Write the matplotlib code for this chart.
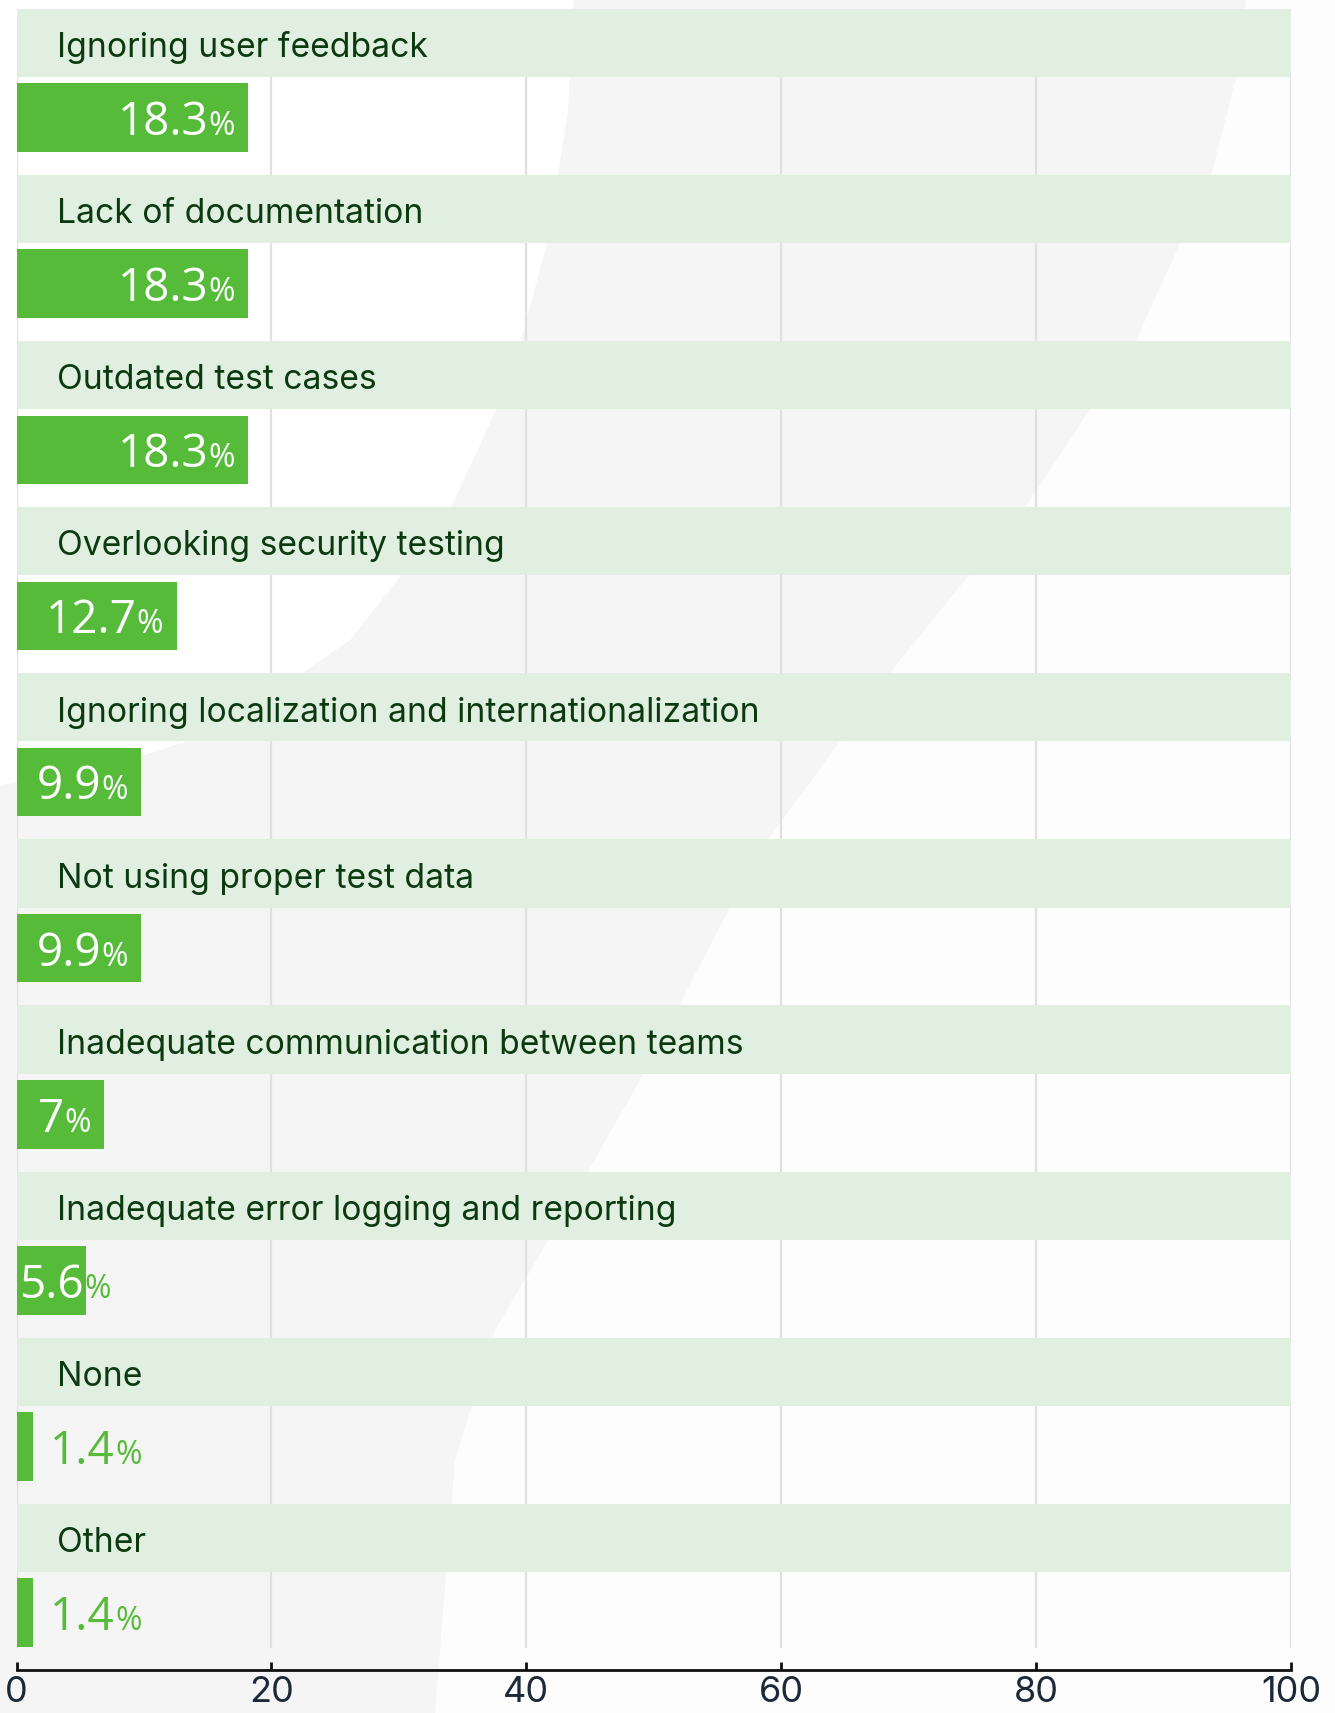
import numpy as np
import matplotlib
matplotlib.use('Agg')
import matplotlib.pyplot as plt
from matplotlib.patches import Polygon

categories = ["Ignoring user feedback", "Lack of documentation", "Outdated test cases",
              "Overlooking security testing", "Ignoring localization and internationalization",
              "Not using proper test data", "Inadequate communication between teams",
              "Inadequate error logging and reporting", "None", "Other"]
values = [18.3, 18.3, 18.3, 12.7, 9.9, 9.9, 7, 5.6, 1.4, 1.4]
value_labels = ["18.3", "18.3", "18.3", "12.7", "9.9", "9.9", "7", "5.6", "1.4", "1.4"]
x_ticks = [0, 20, 40, 60, 80, 100]

CAT_FONT = ['Inter', 'DejaVu Sans']
VAL_FONT = ['Open Sans', 'DejaVu Sans']
BAR_C = '#57bb3a'
BAND_C = '#e1efe1'
TXT_C = '#0c3a10'
GRID_C = '#e0e0e0'

W, H = 1335, 1713
fig = plt.figure(figsize=(W / 100, H / 100), dpi=100)
fig.patch.set_facecolor('#f5f5f5')

# decorative background
bg = fig.add_axes([0, 0, 1, 1], zorder=-5)
bg.set_xlim(0, W); bg.set_ylim(H, 0); bg.axis('off')
tl = [(0, 0), (574, 0), (568, 110), (548, 240), (510, 380), (445, 520),
      (350, 640), (220, 730), (100, 770), (0, 785)]
bg.add_patch(Polygon(tl, closed=True, fc='white', ec='none'))
rr = [(1246, 0), (1236, 77), (1211, 176), (1136, 340), (1030, 500), (900, 660),
      (760, 850), (640, 1080), (560, 1220), (495, 1330), (455, 1460), (435, 1713),
      (W, H), (W, 0)]
bg.add_patch(Polygon(rr, closed=True, fc='#fdfdfd', ec='none'))

x0px, x100px = 16.5, 1291.0
ytop, ybot = 8.7, 1670.0
ax = fig.add_axes([x0px / W, (H - ybot) / H, (x100px - x0px) / W, (ybot - ytop) / H])
ax.set_facecolor('none')
n = len(categories)
ax.set_xlim(0, 100)
ax.set_ylim(n, 0)
pxu = (x100px - x0px) / 100.0

band_h = 0.411
bar_off = 0.655
bar_h = 0.412
pos = np.arange(n)

# gridlines
ax.vlines(x_ticks, band_h, n - 0.135, color=GRID_C, lw=1.6, zorder=1)
# bands
ax.barh(pos + band_h / 2, 100.28, left=-0.12, height=band_h, color=BAND_C, zorder=2)
# bars
bars = ax.barh(pos + bar_off, values, left=-0.12, height=bar_h, color=BAR_C, zorder=3)

renderer = fig.canvas.get_renderer()

# category labels
probe = ax.text(0, 0, categories[0], fontsize=25, family=CAT_FONT)
w25 = probe.get_window_extent(renderer).width
probe.remove()
cat_size = 25 * 369.0 / w25
for i, c in enumerate(categories):
    ax.text(3.2, i + 0.291, c, fontsize=cat_size, family=CAT_FONT, color=TXT_C,
            va='baseline', ha='left', zorder=5)


def tw(s, size):
    t = fig.text(0, 0, s, fontsize=size, family=VAL_FONT)
    w = t.get_window_extent(renderer).width
    t.remove()
    return w


NUM_S, PCT_S = 33, 23
pad = 15
for i, (v, lab) in enumerate(zip(values, value_labels)):
    yb = i + 0.760
    wn = tw(lab, NUM_S)
    wp = tw('%', PCT_S)
    bar_px = v * pxu
    if v < 3:
        col = BAR_C
        start = v * pxu + 16
        ax.annotate(lab, xy=(0, yb), xytext=(start, 0), textcoords='offset pixels',
                    fontsize=NUM_S, family=VAL_FONT, color=col, ha='left', va='baseline', zorder=6)
        ax.annotate('%', xy=(0, yb), xytext=(start + wn, 0), textcoords='offset pixels',
                    fontsize=PCT_S, family=VAL_FONT, color=col, ha='left', va='baseline', zorder=6)
    elif wn + wp + 2 * pad <= bar_px:
        ax.annotate('%', xy=(v, yb), xytext=(-pad, 0), textcoords='offset pixels',
                    fontsize=PCT_S, family=VAL_FONT, color='white', ha='right', va='baseline', zorder=6)
        ax.annotate(lab, xy=(v, yb), xytext=(-pad - wp, 0), textcoords='offset pixels',
                    fontsize=NUM_S, family=VAL_FONT, color='white', ha='right', va='baseline', zorder=6)
    else:
        # label wider than its bar: white where it sits on the bar, green outside
        start = 3
        for col, z, clip in ((BAR_C, 2.5, None), ('white', 6, bars[i])):
            t1 = ax.annotate(lab, xy=(0, yb), xytext=(start, 0), textcoords='offset pixels',
                             fontsize=NUM_S, family=VAL_FONT, color=col, ha='left',
                             va='baseline', zorder=z)
            t2 = ax.annotate('%', xy=(0, yb), xytext=(start + wn, 0), textcoords='offset pixels',
                             fontsize=PCT_S, family=VAL_FONT, color=col, ha='left',
                             va='baseline', zorder=z)
            if clip is not None:
                t1.set_clip_path(clip)
                t2.set_clip_path(clip)

for s in ['top', 'right', 'left']:
    ax.spines[s].set_visible(False)
ax.spines['bottom'].set_color('#111111')
ax.spines['bottom'].set_linewidth(2.0)
ax.spines['bottom'].set_zorder(7)
ax.set_yticks([])
ax.set_xticks(x_ticks)
ax.set_xticklabels([str(t) for t in x_ticks])
ax.tick_params(axis='x', direction='in', length=6, width=2, color='#111111',
               labelsize=26, labelcolor='#1d2939', pad=4)
for lbl in ax.get_xticklabels():
    lbl.set_family(CAT_FONT)

fig.savefig('out.png', dpi=100, facecolor=fig.get_facecolor())
